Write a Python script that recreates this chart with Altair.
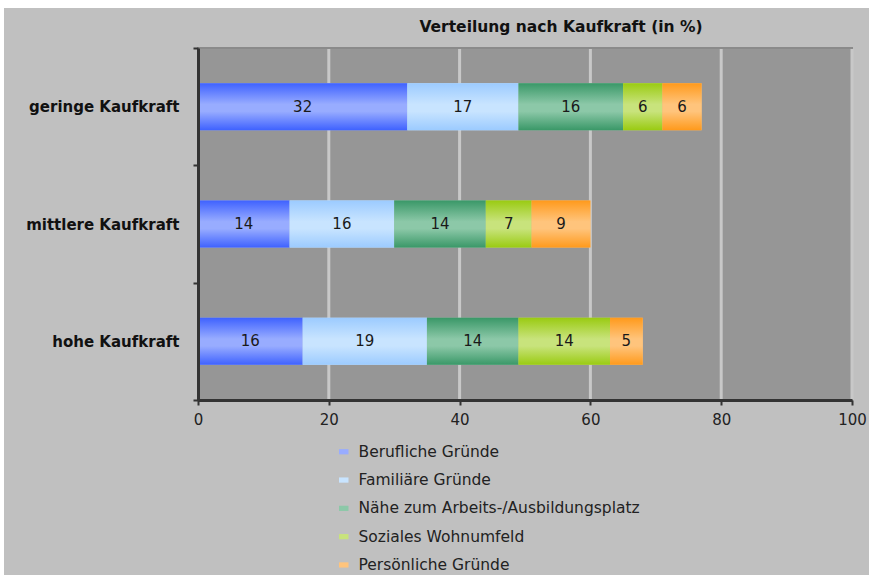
import altair as alt
import pandas as pd

categories = ["geringe Kaufkraft", "mittlere Kaufkraft", "hohe Kaufkraft"]
reasons = [
    "Berufliche Gründe",
    "Familiäre Gründe",
    "Nähe zum Arbeits-/Ausbildungsplatz",
    "Soziales Wohnumfeld",
    "Persönliche Gründe",
]
# share (in %) per reason, listed in the order of the categories
beruflich = [32, 14, 16]
familiaer = [17, 16, 19]
naehe = [16, 14, 14]
sozial = [6, 7, 14]
persoenlich = [6, 9, 5]
x_ticks = [0, 20, 40, 60, 80, 100]
chart_title = "Verteilung nach Kaufkraft (in %)"

series = [beruflich, familiaer, naehe, sozial, persoenlich]

# colours: (edge, middle) of each bar's vertical gradient
edge_colors = ["#3f62ff", "#9ccbff", "#3a9868", "#9acb12", "#ff9a1c"]
mid_colors = ["#98acff", "#c8e4ff", "#8cc8a8", "#c8e37c", "#ffc47c"]

rows = []
for ri, (reason, vals) in enumerate(zip(reasons, series)):
    for ci, (cat, v) in enumerate(zip(categories, vals)):
        rows.append({"Kaufkraft": cat, "Grund": reason, "order": ri, "Wert": v})
df = pd.DataFrame(rows)
grid_df = pd.DataFrame({"tick": x_ticks[1:]})
one_row = pd.DataFrame({"t": [chart_title]})

W, H = 654, 352
FONT = "DejaVu Sans"

x_scale = alt.Scale(domain=[0, 100], nice=False)
y_scale = alt.Scale(domain=categories, paddingInner=0, paddingOuter=0)
bar_height = alt.RelativeBandSize(band=0.4)

base = (
    alt.Chart(df)
    .transform_stack(
        stack="Wert",
        as_=["x0", "x1"],
        groupby=["Kaufkraft"],
        sort=[alt.SortField("order", order="ascending")],
    )
    .transform_calculate(mid="(datum.x0 + datum.x1) / 2")
)

y_enc = alt.Y(
    "Kaufkraft:N",
    scale=y_scale,
    sort=categories,
    axis=alt.Axis(
        title=None,
        labelFont=FONT,
        labelFontWeight="bold",
        labelFontSize=15,
        labelColor="#111111",
        labelPadding=14,
        labelLimit=300,
        domainColor="#333333",
        domainWidth=3,
        tickColor="#333333",
        tickWidth=2,
        tickSize=5,
        tickBand="extent",
        zindex=1,
    ),
)
x_enc = alt.X(
    "x0:Q",
    scale=x_scale,
    axis=alt.Axis(
        title=None,
        values=x_ticks,
        grid=False,
        labelFont=FONT,
        labelFontSize=15,
        labelColor="#222222",
        labelPadding=7,
        labelFlush=False,
        domainColor="#333333",
        domainWidth=3,
        tickColor="#333333",
        tickWidth=2,
        tickSize=5,
        zindex=1,
    ),
)

# outer grey panel and plot area
panel = alt.Chart(one_row).mark_rect(color="#c0c0c0").encode(
    x=alt.value(-194), x2=alt.value(671), y=alt.value(-40), y2=alt.value(527)
)
plot_area = alt.Chart(one_row).mark_rect(
    color="#969696", stroke="#8a8a8a", strokeWidth=2
).encode(x=alt.value(0), x2=alt.value(W), y=alt.value(0), y2=alt.value(H))

title = alt.Chart(one_row).mark_text(
    font=FONT, fontSize=15.5, fontWeight="bold", color="#111111",
    align="center", baseline="middle",
).encode(x=alt.value(363), y=alt.value(-21), text="t:N")

grid = alt.Chart(grid_df).mark_rule(color="#c8c8c8", strokeWidth=3).encode(
    x=alt.X("tick:Q", scale=x_scale), y=alt.value(1), y2=alt.value(H)
)

legend_bars = base.mark_bar(height=bar_height).encode(
    x=x_enc,
    x2="x1:Q",
    y=y_enc,
    color=alt.Color(
        "Grund:N",
        scale=alt.Scale(domain=reasons, range=mid_colors),
        legend=alt.Legend(
            title=None,
            orient="none",
            legendX=138,
            legendY=396,
            direction="vertical",
            labelFont=FONT,
            labelFontSize=15.5,
            labelColor="#222222",
            labelLimit=500,
            symbolType="M-1,-0.55H1V0.55H-1Z",
            symbolSize=90,
            symbolStrokeWidth=0,
            rowPadding=11.3,
            labelOffset=7,
        ),
    ),
)

gradient_layers = []
for reason, edge, mid in zip(reasons, edge_colors, mid_colors):
    grad = alt.Gradient(
        gradient="linear",
        x1=0, x2=0, y1=0, y2=1,
        stops=[
            alt.GradientStop(color=edge, offset=0),
            alt.GradientStop(color=mid, offset=0.45),
            alt.GradientStop(color=mid, offset=0.6),
            alt.GradientStop(color=edge, offset=1),
        ],
    )
    gradient_layers.append(
        base.transform_filter(alt.datum.Grund == reason)
        .mark_bar(color=grad, height=bar_height)
        .encode(
            x=alt.X("x0:Q", scale=x_scale),
            x2="x1:Q",
            y=alt.Y("Kaufkraft:N", scale=y_scale, sort=categories),
        )
    )

labels = base.mark_text(
    font=FONT, fontSize=15, color="#1a1a1a", baseline="middle"
).encode(
    x=alt.X("mid:Q", scale=x_scale),
    y=alt.Y("Kaufkraft:N", scale=y_scale, sort=categories),
    text=alt.Text("Wert:Q", format="d"),
)

chart = (
    alt.layer(panel, plot_area, grid, legend_bars, *gradient_layers, labels, title)
    .properties(
        width=W,
        height=H,
        autosize=alt.AutoSizeParams(type="none"),
        padding={"left": 198, "top": 48, "right": 23, "bottom": 177},
        background="white",
    )
    .configure_view(stroke=None)
)

chart.save("out.html", embed_options={"renderer": "svg", "actions": False})
